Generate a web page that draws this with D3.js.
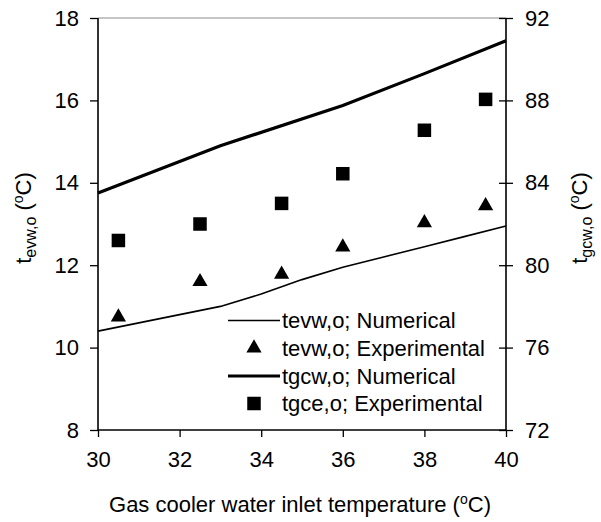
<!DOCTYPE html>
<html>
<head>
<meta charset="utf-8">
<script src="https://cdn.jsdelivr.net/npm/d3@7"></script>
<style>
  html, body { margin: 0; padding: 0; background: #fff; }
  svg { display: block; font-family: "Liberation Sans", Arial, sans-serif; }
</style>
</head>
<body>
<svg id="chart" width="601" height="522"></svg>
<script>
// ---- data ----
const xTicks = [30, 32, 34, 36, 38, 40];
const yLeftTicks = [8, 10, 12, 14, 16, 18];
const yRightTicks = [72, 76, 80, 84, 88, 92];

// tevw,o numerical (left axis)
const evwNumX = [30, 31, 32, 33, 34, 35, 36, 37, 38, 39, 40];
const evwNumY = [10.4, 10.6, 10.8, 11.0, 11.3, 11.65, 11.95, 12.2, 12.45, 12.7, 12.95];
// tevw,o experimental (left axis)
const evwExpX = [30.5, 32.5, 34.5, 36, 38, 39.5];
const evwExpY = [10.74, 11.6, 11.78, 12.44, 13.03, 13.44];
// tgcw,o numerical (right axis)
const gcwNumX = [30, 33, 36, 38, 40];
const gcwNumY = [83.5, 85.8, 87.75, 89.3, 90.9];
// tgce,o experimental (right axis)
const gceExpX = [30.5, 32.5, 34.5, 36, 38, 39.5];
const gceExpY = [81.2, 82.0, 83.0, 84.44, 86.55, 88.05];

const legendLabels = ["tevw,o; Numerical", "tevw,o; Experimental", "tgcw,o; Numerical", "tgce,o; Experimental"];

// ---- layout ----
const svg = d3.select("#chart");
const L = 98, R = 506, T = 18, B = 430;
const FS = 22;

const x = d3.scaleLinear().domain([30, 40]).range([L, R]);
const yL = d3.scaleLinear().domain([8, 18]).range([B, T]);
const yR = d3.scaleLinear().domain([72, 92]).range([B, T]);

// top border (gray)
svg.append("line").attr("x1", L).attr("x2", R).attr("y1", T).attr("y2", T)
  .attr("stroke", "#8c8c8c").attr("stroke-width", 1.2);

// left axis
const gL = svg.append("g").attr("transform", `translate(${L},0)`)
  .call(d3.axisLeft(yL).tickValues(yLeftTicks).tickSize(8).tickPadding(11).tickFormat(d3.format("d")));
// right axis
const gR = svg.append("g").attr("transform", `translate(${R},0)`)
  .call(d3.axisRight(yR).tickValues(yRightTicks).tickSize(7).tickPadding(12).tickFormat(d3.format("d")));
gR.selectAll(".tick line").attr("x1", -7);
// bottom axis
const gB = svg.append("g").attr("transform", `translate(0,${B})`)
  .call(d3.axisBottom(x).tickValues(xTicks).tickSize(7).tickPadding(14).tickFormat(d3.format("d")));

[gL, gR, gB].forEach(g => {
  g.select(".domain").attr("stroke", "#000").attr("stroke-width", 1.6);
  g.selectAll(".tick line").attr("stroke", "#000").attr("stroke-width", 1.3);
  g.selectAll(".tick text").attr("fill", "#000").style("font-size", FS + "px")
    .style("font-family", "'Liberation Sans', Arial, sans-serif");
});
gL.select(".domain").attr("d", `M0,${T}V${B}`);
gR.select(".domain").attr("d", `M0,${T}V${B}`);
gB.select(".domain").attr("d", `M${L},0H${R}`);

// lines
const evwLine = d3.line().x((d, i) => x(evwNumX[i])).y(d => yL(d));
svg.append("path").datum(evwNumY).attr("d", evwLine)
  .attr("fill", "none").attr("stroke", "#000").attr("stroke-width", 1.6);

const gcwLine = d3.line().x((d, i) => x(gcwNumX[i])).y(d => yR(d));
svg.append("path").datum(gcwNumY).attr("d", gcwLine)
  .attr("fill", "none").attr("stroke", "#000").attr("stroke-width", 3.2);

// markers
const tri = d3.symbol().type(d3.symbolTriangle).size(100);
svg.selectAll(".tri").data(evwExpY).join("path")
  .attr("class", "tri")
  .attr("d", tri)
  .attr("transform", (d, i) => `translate(${x(evwExpX[i])},${yL(d)})`)
  .attr("fill", "#000");

const sq = 13.5;
svg.selectAll(".sq").data(gceExpY).join("rect")
  .attr("class", "sq")
  .attr("x", (d, i) => x(gceExpX[i]) - sq / 2)
  .attr("y", d => yR(d) - sq / 2)
  .attr("width", sq).attr("height", sq)
  .attr("fill", "#000");

// legend
const legX = 228, legLineW = 52, legTextX = 282;
const legY = [320.5, 348, 376, 403.5];
const lg = svg.append("g");
lg.append("line").attr("x1", legX).attr("x2", legX + legLineW).attr("y1", legY[0]).attr("y2", legY[0])
  .attr("stroke", "#000").attr("stroke-width", 1.6);
lg.append("path").attr("d", tri).attr("transform", `translate(${legX + legLineW / 2},${legY[1]})`).attr("fill", "#000");
lg.append("line").attr("x1", legX).attr("x2", legX + legLineW).attr("y1", legY[2]).attr("y2", legY[2])
  .attr("stroke", "#000").attr("stroke-width", 3.2);
lg.append("rect").attr("x", legX + legLineW / 2 - sq / 2).attr("y", legY[3] - sq / 2)
  .attr("width", sq).attr("height", sq).attr("fill", "#000");
lg.selectAll("text").data(legendLabels).join("text")
  .attr("x", legTextX).attr("y", (d, i) => legY[i])
  .attr("dy", "0.35em")
  .style("font-size", FS + "px")
  .text(d => d);

// axis titles
const xt = svg.append("text").attr("x", (L + R) / 2 - 2).attr("y", 512)
  .attr("text-anchor", "middle").style("font-size", FS + "px");
xt.append("tspan").text("Gas cooler water inlet temperature (");
xt.append("tspan").attr("dy", -8).style("font-size", "14px").text("o");
xt.append("tspan").attr("dy", 8).text("C)");

function yTitle(xpos, sub) {
  const t = svg.append("text")
    .attr("transform", `translate(${xpos},218) rotate(-90)`)
    .attr("text-anchor", "middle").style("font-size", FS + "px");
  t.append("tspan").text("t");
  t.append("tspan").attr("dy", 5).style("font-size", "16px").text(sub);
  t.append("tspan").attr("dy", -5).text("\u00a0(");
  t.append("tspan").attr("dy", -8).style("font-size", "14px").text("o");
  t.append("tspan").attr("dy", 8).text("C)");
}
yTitle(31, "evw,o");
yTitle(587, "gcw,o");
</script>
</body>
</html>
